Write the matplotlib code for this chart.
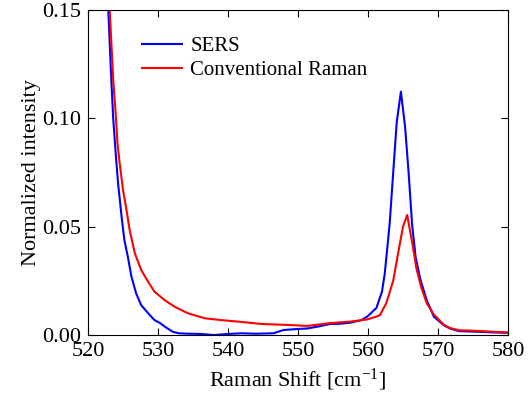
import matplotlib
matplotlib.use("Agg")
import matplotlib.pyplot as plt

plt.rcParams['font.family'] = ['Liberation Serif', 'DejaVu Serif']
plt.rcParams['mathtext.fontset'] = 'custom'
plt.rcParams['mathtext.rm'] = 'Liberation Serif'
plt.rcParams['mathtext.it'] = 'Liberation Serif:italic'

# values
sers_x = [522.5, 522.9, 523.3, 523.6, 524.0, 524.3, 524.8, 525.2, 525.7, 526.2,
          526.9, 527.6, 528.6, 529.5, 530.3, 531.0, 532.1, 533.0, 534.3, 536.0,
          538.0, 540.0, 542.0, 544.0, 546.5, 547.9, 550.0, 551.3, 553.0, 554.6,
          556.0, 557.5, 559.0, 559.9, 561.2, 562.0, 562.4, 563.1, 563.6, 564.1,
          564.7, 565.3, 565.8, 566.3, 566.8, 567.5, 568.4, 569.4, 570.8, 571.7,
          573.0, 575.6, 578.0, 580.0]
sers_y = [0.178, 0.150, 0.120, 0.100, 0.082, 0.070, 0.0546, 0.0438, 0.036, 0.027,
          0.019, 0.0138, 0.010, 0.0069, 0.0055, 0.0038, 0.0015, 0.0008, 0.0006, 0.0005,
          0.0, 0.0005, 0.0008, 0.0006, 0.0008, 0.0023, 0.0028, 0.003, 0.004, 0.0051,
          0.0052, 0.0057, 0.0068, 0.0085, 0.0125, 0.020, 0.0285, 0.0516, 0.075, 0.098,
          0.1123, 0.096, 0.075, 0.051, 0.036, 0.0254, 0.016, 0.0085, 0.0046, 0.003,
          0.0018, 0.0015, 0.0012, 0.001]

raman_x = [522.5, 523.1, 523.6, 524.0, 524.2, 524.5, 525.0, 525.5, 525.95, 526.7,
           527.6, 528.6, 529.5, 531.0, 532.4, 534.3, 536.7, 539.0, 541.4, 544.8,
           548.9, 551.3, 554.6, 557.5, 559.9, 561.2, 561.7, 562.6, 563.6, 564.3,
           565.0, 565.6, 565.9, 566.4, 566.9, 567.6, 568.4, 569.4, 570.8, 571.7,
           573.0, 575.0, 578.0, 580.0]
raman_y = [0.180, 0.150, 0.118, 0.100, 0.089, 0.080, 0.067, 0.0577, 0.0485, 0.0377,
           0.030, 0.0245, 0.020, 0.016, 0.013, 0.010, 0.0077, 0.0069, 0.0062, 0.0051,
           0.0046, 0.0042, 0.0055, 0.0062, 0.0072, 0.0085, 0.0092, 0.0146, 0.025, 0.0377,
           0.050, 0.0554, 0.050, 0.041, 0.031, 0.022, 0.0146, 0.0095, 0.0048, 0.0032,
           0.0022, 0.002, 0.0015, 0.0012]

fig = plt.figure(figsize=(5.31, 4.03), dpi=100)
ax = fig.add_axes([0.1657, 0.1687, 0.791, 0.8065])

ax.plot(sers_x, sers_y, color='blue', lw=1.5, label='SERS')
ax.plot(raman_x, raman_y, color='red', lw=1.5, label='Conventional Raman')

ax.set_xlim(520, 580)
ax.set_ylim(0, 0.15)
ax.set_xticks([520, 530, 540, 550, 560, 570, 580])
ax.set_yticks([0.0, 0.05, 0.10, 0.15])
ax.set_yticklabels(['0.00', '0.05', '0.10', '0.15'])
ax.tick_params(direction='in', top=True, right=True, length=5, labelsize=16, pad=5)

ax.set_xlabel('Raman Shift [cm$^{-1}$]', fontsize=16)
ax.set_ylabel('Normalized intensity', fontsize=16, labelpad=1)

ax.legend(loc='upper left', bbox_to_anchor=(0.085, 0.975), frameon=False, fontsize=15,
          handlelength=1.9, labelspacing=0.2, handletextpad=0.4)

fig.savefig('out.png', dpi=100)
